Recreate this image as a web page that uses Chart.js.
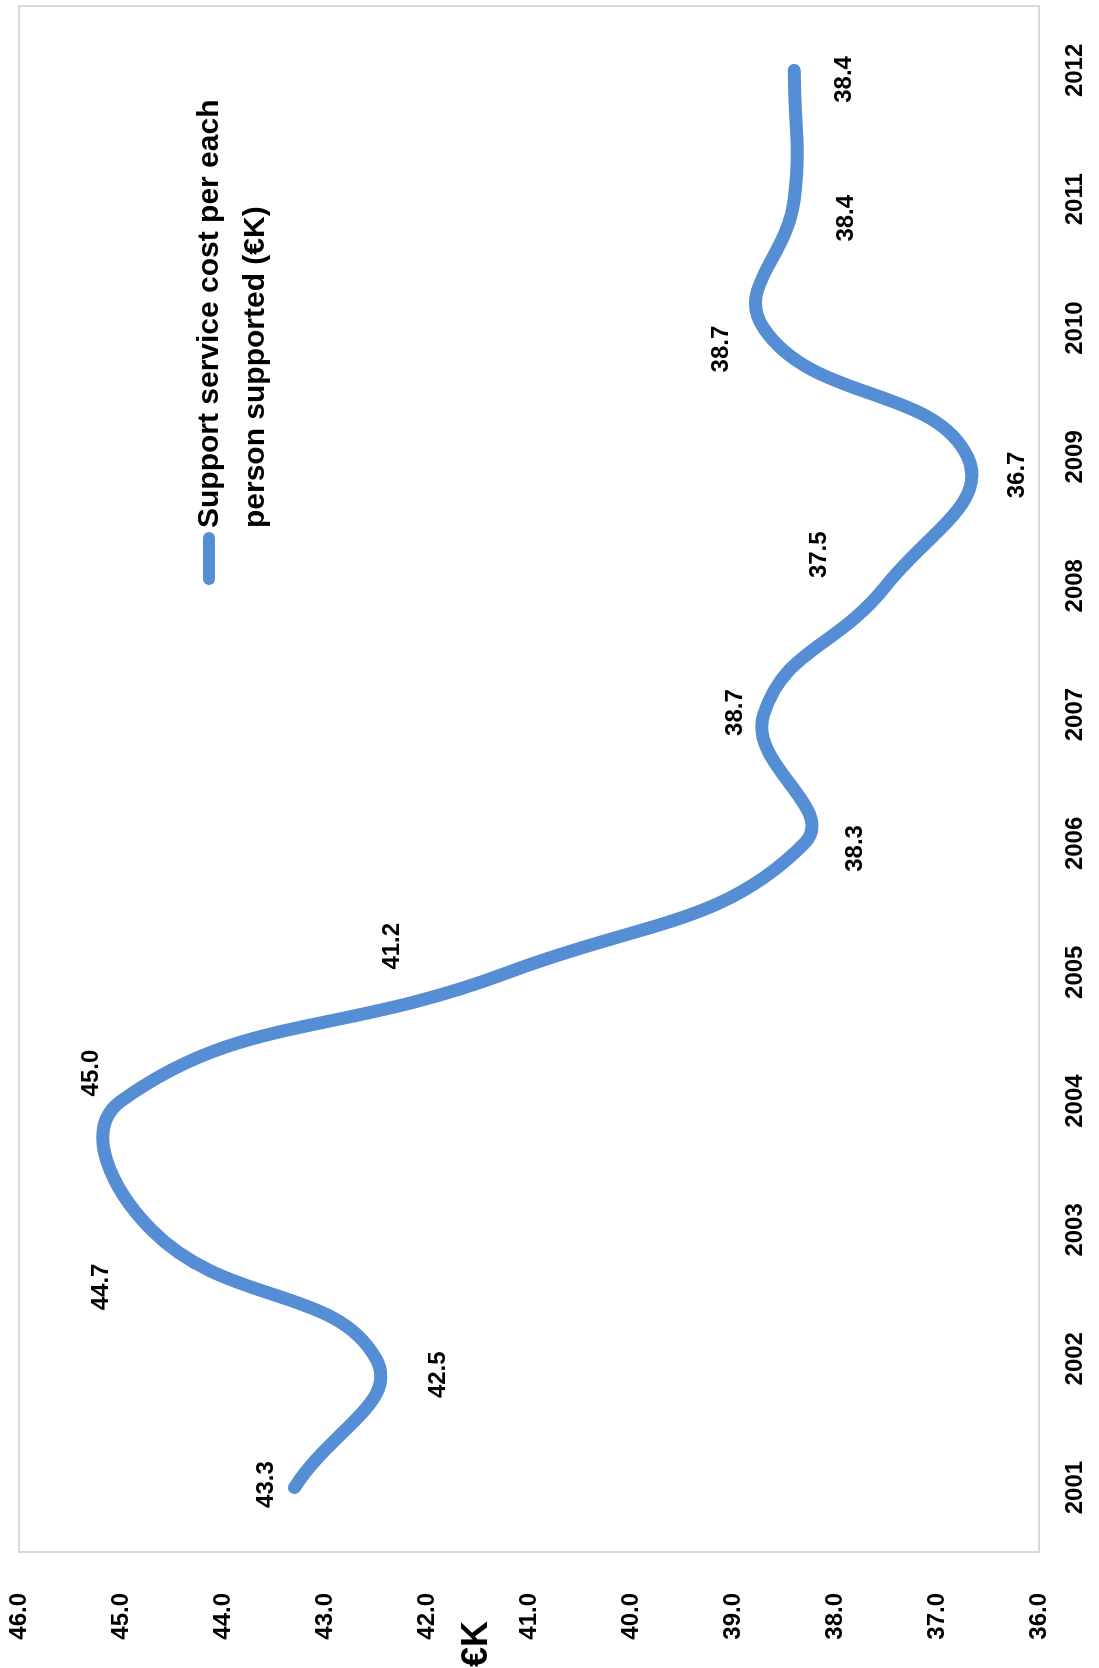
<!DOCTYPE html>
<html>
<head>
<meta charset="utf-8">
<title>Support service cost per person supported</title>
<script src="https://cdn.jsdelivr.net/npm/chart.js@4.4.0/dist/chart.umd.min.js"></script>
<style>
  html, body { margin: 0; padding: 0; background: #fff; overflow: hidden; }
  /* the chart is laid out landscape and turned a quarter turn to the left */
  #wrap {
    position: absolute; left: 0; top: 0;
    width: 1668px; height: 1099px;
    transform-origin: 0 0;
    transform: translateY(1668px) rotate(-90deg);
  }
</style>
</head>
<body>
<div id="wrap"><canvas id="costChart" width="1668" height="1099"></canvas></div>
<script>
var years = ['2001', '2002', '2003', '2004', '2005', '2006', '2007', '2008', '2009', '2010', '2011', '2012'];
var costPerPerson = [43.3, 42.5, 44.7, 45.0, 41.2, 38.3, 38.7, 37.5, 36.7, 38.7, 38.4, 38.4];
var seriesName = ['Support service cost per each', 'person supported (€K)'];
var axisMin = 36, axisMax = 46, axisStep = 1;
var axisTitle = '€K';

// where each value label sits relative to its point [dx, dy]
var labelShift = [[3, -28], [-16, 62], [-57, -50], [28, -30], [26, -116], [-5, 51],
                  [2, -28], [31, -67], [-18, 50], [-21, -42], [-19, 52], [-9, 50]];

var FONT = '"Liberation Sans", Arial, sans-serif';
var lineColor = '#558ED5';

var framePlugin = {
    id: 'frame',
    beforeDatasetsDraw: function (chart) {
        var a = chart.chartArea, ctx = chart.ctx;
        ctx.save();
        ctx.strokeStyle = '#d9d9d9';
        ctx.lineWidth = 2;
        ctx.strokeRect(a.left, a.top, a.right - a.left, a.bottom - a.top);
        ctx.restore();
    }
};

var valueLabels = {
    id: 'valueLabels',
    afterDatasetsDraw: function (chart) {
        var ctx = chart.ctx;
        var pts = chart.getDatasetMeta(0).data;
        ctx.save();
        ctx.font = 'bold 24px ' + FONT;
        ctx.fillStyle = '#000';
        ctx.textAlign = 'center';
        ctx.textBaseline = 'middle';
        pts.forEach(function (p, i) {
            var s = labelShift[i];
            ctx.fillText(costPerPerson[i].toFixed(1), p.x + s[0], p.y + s[1]);
        });
        ctx.restore();
    }
};

var legendAndTitle = {
    id: 'legendAndTitle',
    afterDraw: function (chart) {
        var ctx = chart.ctx;
        ctx.save();
        // legend swatch
        ctx.strokeStyle = lineColor;
        ctx.lineWidth = 12;
        ctx.lineCap = 'round';
        ctx.beginPath();
        ctx.moveTo(1089, 209);
        ctx.lineTo(1130, 209);
        ctx.stroke();
        // legend text, two lines
        ctx.fillStyle = '#000';
        ctx.font = 'bold 30px ' + FONT;
        ctx.textAlign = 'left';
        ctx.textBaseline = 'alphabetic';
        ctx.fillText(seriesName[0], 1140, 218);
        ctx.fillText(seriesName[1], 1140, 264);
        // value axis title
        ctx.font = 'bold 36px ' + FONT;
        ctx.textAlign = 'center';
        ctx.fillText(axisTitle, 24, 487);
        ctx.restore();
    }
};

var ctx = document.getElementById('costChart').getContext('2d');
var costChart = new Chart(ctx, {
    type: 'line',
    data: {
        labels: years,
        datasets: [{
            label: seriesName.join(' '),
            data: costPerPerson,
            borderColor: lineColor,
            backgroundColor: lineColor,
            borderWidth: 13,
            borderCapStyle: 'round',
            borderJoinStyle: 'round',
            pointRadius: 0,
            tension: 0.45,
            fill: false
        }]
    },
    options: {
        responsive: false,
        animation: false,
        layout: { padding: { top: 19, right: 6, left: 0, bottom: 0 } },
        plugins: {
            legend: { display: false },
            tooltip: { enabled: false }
        },
        scales: {
            x: {
                offset: true,
                grid: { display: false },
                border: { display: false },
                ticks: {
                    color: '#000',
                    padding: 14,
                    maxRotation: 0,
                    autoSkip: false,
                    font: { family: FONT, size: 24, weight: 'bold' }
                },
                afterFit: function (s) {
                    s.height = 60;
                    s.paddingLeft = 0;
                    s.paddingRight = 0;
                }
            },
            y: {
                min: axisMin,
                max: axisMax,
                grid: { display: false },
                border: { display: false },
                ticks: {
                    stepSize: axisStep,
                    color: '#000',
                    padding: 33,
                    font: { family: FONT, size: 24, weight: 'bold' },
                    callback: function (v) { return v.toFixed(1); }
                },
                afterFit: function (s) {
                    s.width = 116;
                    s.paddingTop = 0;
                    s.paddingBottom = 0;
                }
            }
        }
    },
    plugins: [framePlugin, valueLabels, legendAndTitle]
});
</script>
</body>
</html>
